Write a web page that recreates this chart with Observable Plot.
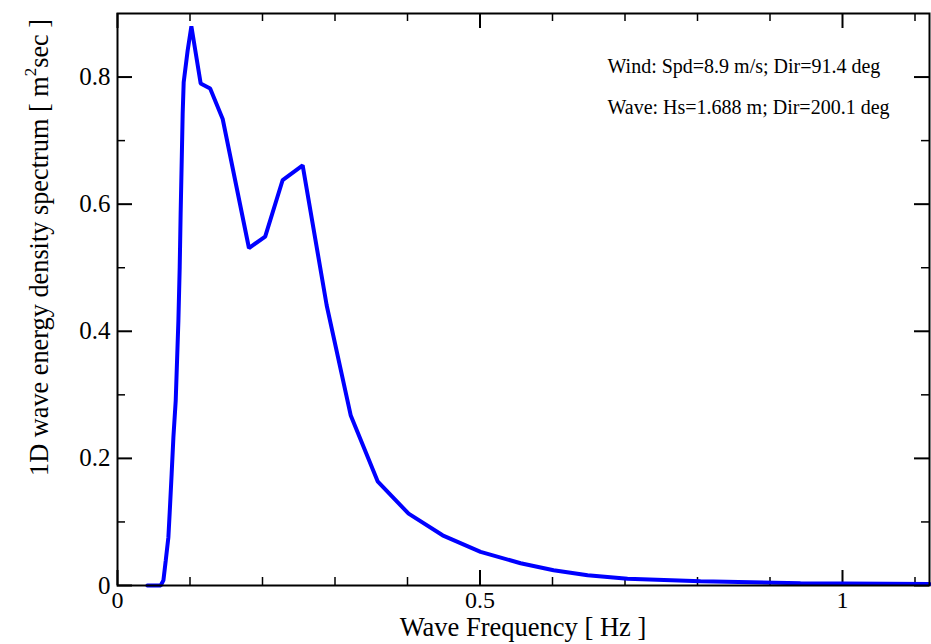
<!DOCTYPE html>
<html>
<head>
<meta charset="utf-8">
<script src="https://cdn.jsdelivr.net/npm/d3@7"></script>
<script src="https://cdn.jsdelivr.net/npm/@observablehq/plot@0.6"></script>
<style>
  html, body { margin: 0; padding: 0; background: #fff; }
  #chart svg { display: block; }
</style>
</head>
<body>
<div id="chart"></div>
<script>
// Wave frequency [Hz]
const freq = [0.0412, 0.0596, 0.0633, 0.0665, 0.0702, 0.0720, 0.0747, 0.0771, 0.0803, 0.0840,
  0.0858, 0.0871, 0.0885, 0.0899, 0.0913, 0.0968, 0.1019, 0.1147, 0.1278, 0.1451,
  0.1813, 0.2037, 0.2278, 0.2554, 0.2885, 0.3216, 0.3588, 0.4015, 0.4484, 0.5008,
  0.5560, 0.6015, 0.6484, 0.7035, 0.8042, 0.9421, 1.1200];
// 1D wave energy density [m^2 sec]
const energy = [0, 0, 0.008, 0.039, 0.076, 0.115, 0.176, 0.233, 0.291, 0.417,
  0.501, 0.586, 0.664, 0.743, 0.792, 0.842, 0.880, 0.790, 0.782, 0.734,
  0.531, 0.549, 0.638, 0.661, 0.441, 0.268, 0.164, 0.113, 0.079, 0.053,
  0.035, 0.024, 0.016, 0.0105, 0.0068, 0.0036, 0.0024];

const xMajor = [0, 0.5, 1];
const xMinor = [0.1, 0.2, 0.3, 0.4, 0.6, 0.7, 0.8, 0.9, 1.1];
const yMajor = [0, 0.2, 0.4, 0.6, 0.8];
const yMinor = [0.1, 0.3, 0.5, 0.7];
const xLabels = ["0", "0.5", "1"];
const yLabels = ["0", "0.2", "0.4", "0.6", "0.8"];
const windText = "Wind: Spd=8.9 m/s; Dir=91.4 deg";
const waveText = "Wave: Hs=1.688 m; Dir=200.1 deg";
const xTitle = "Wave Frequency [ Hz ]";
const yTitleParts = ["1D wave energy density spectrum [ m", "2", "sec ]"];

const data = freq.map((f, i) => ({f, e: energy[i]}));

const W = 931, H = 644;
const mL = 117, mR = 2, mT = 13, mB = 59;
const plotH = H - mT - mB, plotW = W - mL - mR;
const MAJ = 15, MIN = 8;
const font = "Liberation Serif, Times New Roman, serif";

const chart = Plot.plot({
  width: W,
  height: H,
  marginLeft: mL,
  marginRight: mR,
  marginTop: mT,
  marginBottom: mB,
  style: {fontFamily: font, background: "#fff", color: "#000"},
  x: {domain: [0, 1.12]},
  y: {domain: [0, 0.9]},
  marks: [
    // inward ticks: bottom & top
    Plot.tickX(xMajor, {x: d => d, insetTop: plotH - MAJ, stroke: "#000", strokeWidth: 2}),
    Plot.tickX(xMinor, {x: d => d, insetTop: plotH - MIN, stroke: "#000", strokeWidth: 1.5}),
    Plot.tickX(xMajor, {x: d => d, insetBottom: plotH - MAJ, stroke: "#000", strokeWidth: 2}),
    Plot.tickX(xMinor, {x: d => d, insetBottom: plotH - MIN, stroke: "#000", strokeWidth: 1.5}),
    // inward ticks: left & right
    Plot.tickY(yMajor, {y: d => d, insetRight: plotW - MAJ, stroke: "#000", strokeWidth: 2}),
    Plot.tickY(yMinor, {y: d => d, insetRight: plotW - MIN, stroke: "#000", strokeWidth: 1.5}),
    Plot.tickY(yMajor, {y: d => d, insetLeft: plotW - MAJ, stroke: "#000", strokeWidth: 2}),
    Plot.tickY(yMinor, {y: d => d, insetLeft: plotW - MIN, stroke: "#000", strokeWidth: 1.5}),
    Plot.axisX({ticks: xMajor, tickSize: 0, tickPadding: 5, fontSize: 24,
      tickFormat: d => xLabels[xMajor.indexOf(d)], label: null}),
    Plot.axisY({ticks: yMajor, tickSize: 0, tickPadding: 7, fontSize: 25,
      tickFormat: d => yLabels[yMajor.indexOf(d)], label: null}),
    Plot.line(data, {x: "f", y: "e", stroke: "#0000ff", strokeWidth: 4, strokeLinejoin: "miter"}),
    Plot.text([windText], {text: d => d, frameAnchor: "top-left", textAnchor: "start",
      dx: 490, dy: 45, fontSize: 20, fill: "#000"}),
    Plot.text([waveText], {text: d => d, frameAnchor: "top-left", textAnchor: "start",
      dx: 490, dy: 86, fontSize: 20, fill: "#000"}),
    Plot.frame({stroke: "#000", strokeWidth: 2})
  ]
});

document.getElementById("chart").appendChild(chart);

const svg = d3.select(chart);

// x-axis title
svg.append("text")
  .attr("x", mL + plotW / 2)
  .attr("y", 636)
  .attr("text-anchor", "middle")
  .attr("font-family", font)
  .attr("font-size", 26.5)
  .attr("fill", "#000")
  .text(xTitle);

// y-axis title with superscript
const yt = svg.append("text")
  .attr("transform", "translate(48,476) rotate(-90)")
  .attr("text-anchor", "start")
  .attr("font-family", font)
  .attr("font-size", 26.3)
  .attr("fill", "#000");
yt.append("tspan").text(yTitleParts[0]);
yt.append("tspan").attr("font-size", 17).attr("dy", -12).text(yTitleParts[1]);
yt.append("tspan").attr("dy", 12).text(yTitleParts[2]);
</script>
</body>
</html>
